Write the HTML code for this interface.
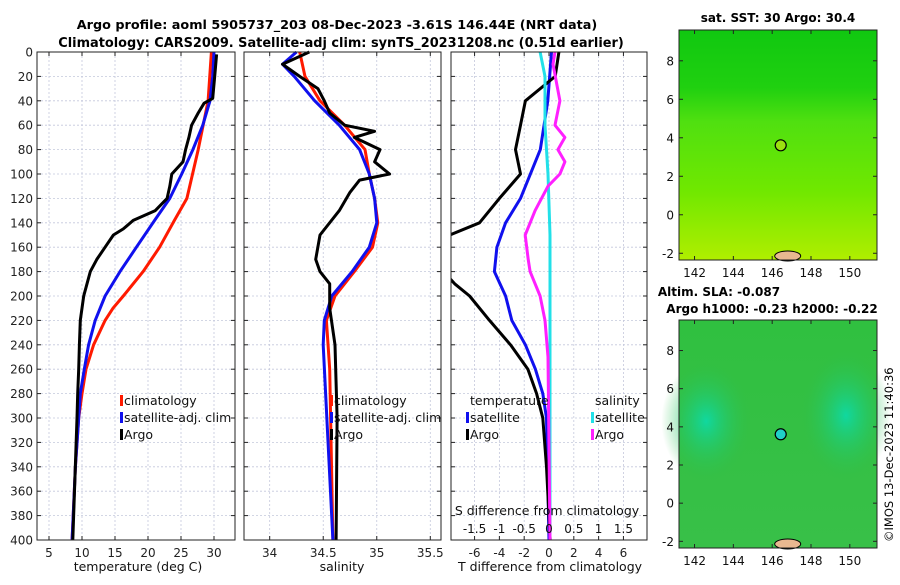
<!DOCTYPE html>
<html><head><meta charset="utf-8"><style>
body{margin:0;background:#fff;width:900px;height:580px;overflow:hidden}
svg{font-family:"DejaVu Sans","Liberation Sans",sans-serif}
</style></head><body>
<svg id="fig" width="900" height="580" xmlns="http://www.w3.org/2000/svg">
<text x="337" y="29" text-anchor="middle" font-size="12.8" font-weight="bold">Argo profile: aoml 5905737_203 08-Dec-2023 -3.61S 146.44E (NRT data)</text>
<text x="341" y="47" text-anchor="middle" font-size="12.9" font-weight="bold">Climatology: CARS2009. Satellite-adj clim: synTS_20231208.nc (0.51d earlier)</text>
<g id="p1"></g>
<g id="p2"></g>
<g id="p3"></g>
<g id="m1"></g>
<g id="m2"></g>
<text x="778" y="22" text-anchor="middle" font-size="12" font-weight="bold">sat. SST: 30 Argo: 30.4</text>
<text x="719" y="296" text-anchor="middle" font-size="12" font-weight="bold">Altim. SLA: -0.087</text>
<text x="772" y="313" text-anchor="middle" font-size="12" font-weight="bold">Argo h1000: -0.23 h2000: -0.22</text>
<text transform="translate(893,542) rotate(-90)" font-size="11.5">©IMOS 13-Dec-2023 11:40:36</text>
</svg>
<script>
const NS="http://www.w3.org/2000/svg";
function el(p,t,a){const e=document.createElementNS(NS,t);for(const k in a)e.setAttribute(k,a[k]);p.appendChild(e);return e;}
// ---- data ----
const depthTicks=[0,20,40,60,80,100,120,140,160,180,200,220,240,260,280,300,320,340,360,380,400];
const tempTicks=[5,10,15,20,25,30];
const salTicks=[34,34.5,35,35.5];
const tdiffTicks=[-6,-4,-2,0,2,4,6];
const sdiffTicks=[-1.5,-1,-0.5,0,0.5,1,1.5];
const tClimDepth=[0,40,80,120,138,160,180,200,210,220,240,260,280,300,340,400];
const tClim=[29.6,29.1,27.6,25.9,24,21.75,19.25,16.25,14.7,13.5,11.75,10.6,10,9.5,9,8.5];
const tSatDepth=[0,20,40,60,80,100,120,138,160,180,200,220,240,260,280,300,340,400];
const tSat=[30,29.8,29.4,28.3,26.8,25.1,23.3,21,18.25,15.75,13.5,12,11,10.35,9.75,9.5,9,8.5];
const tArgoDepth=[2,20,38,42,50,60,70,80,90,100,110,120,130,138,145,150,160,170,180,190,200,220,240,260,280,300,400];
const tArgo=[30.4,30.1,29.8,28.5,27.6,26.6,26.2,25.7,25.3,23.6,23.3,22.9,21.1,17.75,16.25,14.75,13.5,12.25,11.25,10.75,10.25,9.75,9.6,9.5,9.35,9.25,8.6];
const sArgoDepth=[0,10,20,30,40,50,60,65,70,80,90,100,105,115,130,150,170,180,190,210,240,300,400];
const sArgo=[34.37,34.12,34.28,34.45,34.51,34.56,34.7,34.98,34.79,35.03,34.98,35.12,34.84,34.75,34.65,34.47,34.43,34.47,34.56,34.56,34.61,34.63,34.62];
const sClimDepth=[0,20,40,60,80,100,120,140,160,180,200,220,260,400];
const sClim=[34.28,34.33,34.47,34.7,34.89,34.93,34.98,35.01,34.96,34.79,34.61,34.53,34.56,34.59];
const sSatDepth=[0,10,20,40,60,80,100,120,140,160,180,200,220,240,400];
const sSat=[34.25,34.12,34.23,34.42,34.65,34.84,34.93,34.98,35.0,34.93,34.77,34.58,34.51,34.5,34.59];
const dTArgoDepth=[0,20,40,60,80,100,120,140,150,160,180,190,200,220,240,260,280,300,340,400];
const dTArgo=[0.8,0.5,-1.9,-2.3,-2.7,-2.3,-4,-5.6,-8,-8.5,-8.5,-7.6,-6.4,-4.8,-3.1,-1.7,-1,-0.5,-0.2,0.1];
const dTSatDepth=[0,40,80,120,140,160,180,200,220,240,260,280,300,400];
const dTSat=[0.2,-0.1,-0.7,-2.3,-3.5,-4.2,-4.4,-3.5,-3,-1.9,-1.1,-0.5,-0.2,0];
const dSSatDepth=[0,20,60,100,150,200,400];
const dSSat=[-0.18,-0.08,-0.08,-0.02,0.02,0.02,0.02];
const dSArgoDepth=[0,10,40,60,70,80,90,100,110,130,150,170,180,200,220,250,400];
const dSArgo=[0.12,0.08,0.22,0.12,0.32,0.18,0.32,0.22,-0.02,-0.28,-0.48,-0.42,-0.38,-0.18,-0.08,-0.02,0.02];
const argoLon=[146.44], argoLat=[3.61];
const mapXTicks=[142,144,146,148,150];
const mapYTicks=[-2,0,2,4,6,8];
// ---- axes ----
const Y0=52,Y1=540;
const yD=d=>Y0+(d/400)*(Y1-Y0);
function lin(d0,d1,r0,r1){return v=>r0+(v-d0)/(d1-d0)*(r1-r0);}
const xT=lin(5,30,49,214), xS=lin(33.76,35.6,244,441), xDT=lin(-7.9,7.9,451,647), xDS=v=>xDT(v*4);
function panel(g,x0,x1,xt,xs,showY){
  el(g,'rect',{x:x0,y:Y0,width:x1-x0,height:Y1-Y0,fill:'#fff'});
  depthTicks.forEach(d=>{const l=el(g,'line',{x1:x0,x2:x1,y1:yD(d),y2:yD(d),stroke:'#c4c8dc','stroke-dasharray':'2,2','stroke-width':0.8});
    el(g,'line',{x1:x0,x2:x0+4,y1:yD(d),y2:yD(d),stroke:'#222'});el(g,'line',{x1:x1,x2:x1-4,y1:yD(d),y2:yD(d),stroke:'#222'});
    if(showY){const t=el(g,'text',{x:x0-4,y:yD(d)+4.5,'text-anchor':'end','font-size':12,fill:'#222'});t.textContent=d;}});
  xt.forEach(v=>{const X=xs(v);el(g,'line',{x1:X,x2:X,y1:Y0,y2:Y1,stroke:'#c4c8dc','stroke-dasharray':'2,2','stroke-width':0.8});
    el(g,'line',{x1:X,x2:X,y1:Y1,y2:Y1-4,stroke:'#222'});el(g,'line',{x1:X,x2:X,y1:Y0,y2:Y0+4,stroke:'#222'});
    const t=el(g,'text',{x:X,y:Y1+17,'text-anchor':'middle','font-size':12,fill:'#222'});t.textContent=v;});
}
function line(g,xs,vals,ds,color,name,clip){
  const p=el(g,'polyline',{points:vals.map((v,i)=>xs(v).toFixed(1)+','+yD(ds[i]).toFixed(1)).join(' '),fill:'none',stroke:color,'stroke-width':3,'stroke-linejoin':'round'});
  if(clip)p.setAttribute('clip-path',clip);
  }
function frame(g,x0,x1){el(g,'rect',{x:x0,y:Y0,width:x1-x0,height:Y1-Y0,fill:'none',stroke:'#222','stroke-width':1});}
function txt(g,x,y,s,name,size,anchor){const t=el(g,'text',{x:x,y:y,'font-size':size||12.5,'text-anchor':anchor||'start',fill:'#111'});t.textContent=s;return t;}
function leg(g,x,y,c,s,name){el(g,'rect',{x:x,y:y-10,width:3,height:11,fill:c});txt(g,x+4,y,s,name);}
const svg=document.getElementById('fig');
const defs=el(svg,'defs',{});
const cp=el(defs,'clipPath',{id:'c3'});el(cp,'rect',{x:451,y:52,width:196,height:488});
// panel 1
const p1=document.getElementById('p1');
panel(p1,37,235,tempTicks,xT,true);
line(p1,xT,tClim,tClimDepth,'#ff1a00','climatology-temp-line');
line(p1,xT,tSat,tSatDepth,'#1010ee','satellite-temp-line');
line(p1,xT,tArgo,tArgoDepth,'#000','argo-temp-line');
frame(p1,37,235);
leg(p1,120,405,'#ff1a00','climatology','legend-climatology');
leg(p1,120,422,'#1010ee','satellite-adj. clim','legend-satellite');
leg(p1,120,439,'#000','Argo','legend-argo');
txt(p1,138,571,'temperature (deg C)','x-axis-title-temperature',12.5,'middle');
// panel 2
const p2=document.getElementById('p2');
panel(p2,244,441,salTicks,xS,false);
line(p2,xS,sClim,sClimDepth,'#ff1a00','climatology-salinity-line');
line(p2,xS,sSat,sSatDepth,'#1010ee','satellite-salinity-line');
line(p2,xS,sArgo,sArgoDepth,'#000','argo-salinity-line');
frame(p2,244,441);
leg(p2,330,405,'#ff1a00','climatology','legend-climatology');
leg(p2,330,422,'#1010ee','satellite-adj. clim','legend-satellite');
leg(p2,330,439,'#000','Argo','legend-argo');
txt(p2,342,571,'salinity','x-axis-title-salinity',12.5,'middle');
// panel 3
const p3=document.getElementById('p3');
panel(p3,451,647,tdiffTicks,xDT,false);
line(p3,xDT,dTSat,dTSatDepth,'#1010ee','satellite-tdiff-line','url(#c3)');
line(p3,xDT,dTArgo,dTArgoDepth,'#000','argo-tdiff-line','url(#c3)');
line(p3,xDS,dSSat,dSSatDepth,'#22e0e8','satellite-sdiff-line','url(#c3)');
line(p3,xDS,dSArgo,dSArgoDepth,'#ff20ff','argo-sdiff-line','url(#c3)');
frame(p3,451,647);
txt(p3,470,405,'temperature','legend-temperature-heading');
txt(p3,595,405,'salinity','legend-salinity-heading');
leg(p3,466,422,'#1010ee','satellite','legend-t-satellite');
leg(p3,466,439,'#000','Argo','legend-t-argo');
leg(p3,591,422,'#22e0e8','satellite','legend-s-satellite');
leg(p3,591,439,'#ff20ff','Argo','legend-s-argo');
txt(p3,547,515,'S difference from climatology','s-diff-axis-title',12.5,'middle');
sdiffTicks.forEach(v=>txt(p3,xDS(v),533,String(v),'s-diff-tick-label',12,'middle'));
txt(p3,550,571,'T difference from climatology','t-diff-axis-title',12.5,'middle');
// maps
function map(g,x0,x1,y0,y1,latTop,latBot,kind){
  const lx=lin(141.2,151.4,x0,x1), ly=lin(latTop,latBot,y0,y1);
  const gid='g'+kind;const gr=el(defs,'linearGradient',{id:gid,x1:0,y1:0,x2:0,y2:1});
  const stops=kind==='sst'?[[0,'#10c810'],[0.25,'#20d010'],[0.4,'#50e010'],[0.7,'#70e800'],[1,'#b0ee00']]:[[0,'#30c040'],[1,'#38c048']];
  stops.forEach(s=>el(gr,'stop',{offset:s[0],'stop-color':s[1]}));
  const r=el(g,'rect',{x:x0,y:y0,width:x1-x0,height:y1-y0,fill:'url(#'+gid+')'});
  if(kind==='sla'){
    const rg=el(defs,'radialGradient',{id:'rb'});el(rg,'stop',{offset:0,'stop-color':'#10d8a0'});el(rg,'stop',{offset:1,'stop-color':'#30c048','stop-opacity':0});
    el(g,'ellipse',{cx:lx(142.6),cy:ly(4.3),rx:45,ry:60,fill:'url(#rb)'});
    el(g,'ellipse',{cx:lx(149.8),cy:ly(4.6),rx:45,ry:65,fill:'url(#rb)'});
  }
  el(g,'ellipse',{cx:lx(146.8),cy:y1-4,rx:13,ry:5,fill:'#e8b890',stroke:'#000'});
  el(g,'rect',{x:x0,y:y0,width:x1-x0,height:y1-y0,fill:'none',stroke:'#222'});
  mapXTicks.forEach(v=>{el(g,'line',{x1:lx(v),x2:lx(v),y1:y1,y2:y1-4,stroke:'#222'});el(g,'line',{x1:lx(v),x2:lx(v),y1:y0,y2:y0+4,stroke:'#222'});txt(g,lx(v),y1+17,String(v),'map-lon-tick',12,'middle');});
  mapYTicks.forEach(v=>{el(g,'line',{x1:x0,x2:x0+4,y1:ly(v),y2:ly(v),stroke:'#222'});el(g,'line',{x1:x1,x2:x1-4,y1:ly(v),y2:ly(v),stroke:'#222'});txt(g,x0-5,ly(v)+4.5,String(v),'map-lat-tick',12,'end');});
  const c=el(g,'circle',{cx:lx(argoLon[0]),cy:ly(argoLat[0]),r:5.5,fill:kind==='sst'?'#9ce010':'#20d0c8',stroke:'#000','stroke-width':1.2});
  
}
map(document.getElementById('m1'),679,877,30,260,9.6,-2.35,'sst');
map(document.getElementById('m2'),679,877,320,548,9.6,-2.35,'sla');
</script>
</body></html>
